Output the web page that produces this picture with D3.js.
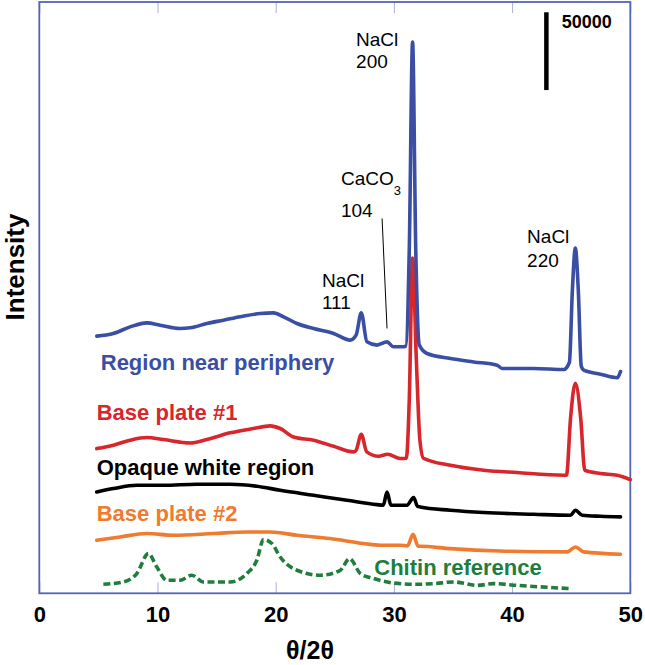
<!DOCTYPE html>
<html>
<head>
<meta charset="utf-8">
<script src="https://cdn.jsdelivr.net/npm/d3@7"></script>
<style>
  html, body { margin: 0; padding: 0; background: #fff; }
  svg { display: block; font-family: "Liberation Sans", Arial, Helvetica, sans-serif; }
</style>
</head>
<body>
<svg id="chart" width="645" height="665"></svg>
<script>
// ---- Data (2θ in degrees, intensity in thousands of counts incl. stacking offset) ----
const periphery2T = [4.86,6.27,7.68,9.09,10.22,11.91,12.76,14.17,15.58,17.0,18.69,19.81,20.66,21.8,23.2,24.9,26.3,26.8,27.24,27.72,28.57,29.42,29.97,30.69,31.0,31.3,31.58,31.85,32.15,32.8,34.78,36.75,38.73,39.15,41.83,44.37,44.85,45.1,45.35,45.6,45.85,46.06,47.48,48.89,49.17];
const peripheryI  = [165.3,167.0,171.2,173.8,172.3,170.2,170.6,173.4,175.5,177.7,179.8,180.2,177.7,173.4,170.2,167.0,162.7,165.9,180.2,161.6,159.5,161.6,158.4,158.4,158.8,220.5,354.3,220.5,159.5,154.1,150.9,148.7,146.6,144.5,144.5,143.8,148.5,194.8,221.8,194.8,146.0,143.4,140.8,138.5,142.5];

const plate1_2T = [4.86,6.27,7.68,9.09,10.5,12.76,14.17,16.15,18.12,19.53,20.38,21.5,23.2,24.9,26.59,26.8,27.24,27.7,28.7,29.47,30.54,31.05,31.3,31.58,31.9,32.2,32.5,34.78,37.6,40.42,44.37,44.6,44.95,45.35,45.8,46.15,47.48,48.89,50.0];
const plate1I   = [93.0,95.2,98.4,100.1,98.8,96.6,98.8,103.1,105.9,107.6,105.9,100.5,98.4,94.5,90.9,91.9,102.2,90.9,88.1,89.4,86.6,86.8,124.1,215.4,149.8,98.4,86.8,82.3,79.1,77.6,75.9,75.9,113.0,135.0,113.0,79.1,77.0,75.9,73.1];

const opaque2T = [4.86,6.27,8.25,10.5,13.33,16.15,18.4,20.38,23.2,26.03,28.57,29.1,29.42,29.75,31.1,31.67,32.0,32.23,34.78,37.6,41.83,44.94,45.36,45.93,47.48,49.17];
const opaqueI  = [65.1,67.3,69.4,69.4,70.1,70.1,68.8,66.2,63.0,59.8,57.0,56.6,65.1,56.6,56.6,61.5,55.9,55.5,53.4,51.9,50.8,50.2,53.4,50.2,49.5,49.1];

const plate2_2T = [4.86,6.83,9.09,11.35,14.73,17.56,19.53,21.8,24.6,27.43,28.85,30.54,31.15,31.62,32.05,32.23,34.78,39.0,44.66,45.36,46.06,49.17];
const plate2I   = [34.1,36.2,38.4,37.3,38.4,39.4,39.4,37.3,35.2,32.0,30.9,30.9,30.5,37.9,30.2,30.2,28.7,27.2,26.6,29.8,26.6,25.1];

const chitin2T = [5.42,7.11,8.25,9.23,9.94,10.79,11.91,12.9,13.89,16.15,17.56,18.4,18.97,19.68,20.38,21.8,23.77,25.46,26.25,27.16,28.28,29.98,31.96,33.36,35.06,37.04,38.44,40.42,44.94];
const chitinI  = [5.8,7.3,12.7,25.5,16.9,8.4,8.4,11.6,7.3,7.3,12.7,21.2,34.5,32.0,23.3,14.8,11.6,14.8,22.3,12.7,9.5,6.6,5.8,6.2,7.3,5.1,6.2,5.1,3.0];

const seriesNames = ["Region near periphery","Base plate #1","Opaque white region","Base plate #2","Chitin reference"];
const xTicks = [0,10,20,30,40,50];
const xDomain = [0,50];
const yDomain = [0,380];          // thousands of counts
const scaleBarValue = 50;         // 50000 counts
const scaleBarLabel = "50000";

// ---- Layout ----
const svg = d3.select("#chart");
const L = 39.3, R = 630.3, T = 2, B = 593.3;
const x = d3.scaleLinear().domain(xDomain).range([L, R]);
const y = d3.scaleLinear().domain(yDomain).range([B, T]);

const frameColor = "#5464b4";
const tickColor = "#a9b0d2";

// axes (inward ticks)
const gx = svg.append("g").attr("transform", `translate(0,${B})`)
  .call(d3.axisBottom(x).tickValues(xTicks).tickSize(-11).tickPadding(13));
gx.select(".domain").remove();
gx.selectAll(".tick line").attr("stroke", tickColor).attr("stroke-width", 1);
gx.selectAll(".tick text").attr("font-size", 22).attr("font-weight", "bold")
  .attr("fill", "#000").attr("font-family", "Liberation Sans, Arial, sans-serif");

const gt = svg.append("g").attr("transform", `translate(0,${T})`)
  .call(d3.axisTop(x).tickValues(xTicks).tickSize(-11).tickFormat(""));
gt.select(".domain").remove();
gt.selectAll(".tick line").attr("stroke", tickColor).attr("stroke-width", 1);

// frame
svg.append("rect").attr("x", L).attr("y", T).attr("width", R - L).attr("height", B - T)
  .attr("fill", "none").attr("stroke", frameColor).attr("stroke-width", 1.8);

// axis titles
svg.append("text").attr("x", 310).attr("y", 659).attr("text-anchor", "middle")
  .attr("font-size", 25).attr("font-weight", "bold").text("θ/2θ");
svg.append("text").attr("transform", "translate(24,267) rotate(-90)")
  .attr("text-anchor", "middle").attr("font-size", 26).attr("font-weight", "bold").text("Intensity");

// traces
const line = d3.line().x(d => x(d[0])).y(d => y(d[1])).curve(d3.curveMonotoneX);
const traces = [
  {t: periphery2T, v: peripheryI, c: "#3a4ea3", dash: null},
  {t: plate1_2T, v: plate1I, c: "#d7262c", dash: null},
  {t: opaque2T, v: opaqueI, c: "#000000", dash: null},
  {t: plate2_2T, v: plate2I, c: "#ee7b30", dash: null},
  {t: chitin2T, v: chitinI, c: "#1f7d3e", dash: "7,3.5"}
];
traces.slice().reverse().forEach(s => {
  svg.append("path").datum(d3.zip(s.t, s.v))
    .attr("d", line).attr("fill", "none").attr("stroke", s.c)
    .attr("stroke-width", 3.6).attr("stroke-linejoin", "round")
    .attr("stroke-linecap", s.dash ? "butt" : "round")
    .attr("stroke-dasharray", s.dash);
});

// series labels (anchors in data units)
const seriesLabelAt = [[5.2,143.8],[4.86,111.2],[4.86,75.9],[4.86,46.5],[28.34,11.6]];
seriesNames.forEach((n, i) => {
  svg.append("text").attr("x", x(seriesLabelAt[i][0])).attr("y", y(seriesLabelAt[i][1]))
    .attr("font-size", 22).attr("font-weight", "bold").attr("fill", traces[i].c).text(n);
});

// peak annotations
const annot = [
  {t: 26.8, v: 351.7, s: "NaCl"}, {t: 26.8, v: 337.4, s: "200"},
  {t: 23.91, v: 196.9, s: "NaCl"}, {t: 23.91, v: 182.4, s: "111"},
  {t: 41.27, v: 224.9, s: "NaCl"}, {t: 41.27, v: 209.8, s: "220"},
  {t: 25.52, v: 241.6, s: "104"}
];
annot.forEach(a => {
  svg.append("text").attr("x", x(a.t)).attr("y", y(a.v)).attr("font-size", 19).text(a.s);
});
const caco = svg.append("text").attr("x", x(25.52)).attr("y", y(262.3)).attr("font-size", 19);
caco.append("tspan").text("CaCO");
caco.append("tspan").attr("font-size", 13).attr("dy", 10).text("3");
svg.append("line").attr("x1", x(29.0)).attr("y1", y(240.9)).attr("x2", x(29.42)).attr("y2", y(170.2))
  .attr("stroke", "#000").attr("stroke-width", 1);

// scale bar
const barT = 42.9, barTop = 373.4;
svg.append("line").attr("x1", x(barT)).attr("x2", x(barT))
  .attr("y1", y(barTop)).attr("y2", y(barTop - scaleBarValue))
  .attr("stroke", "#000").attr("stroke-width", 4.5);
svg.append("text").attr("x", x(44.2)).attr("y", y(363.1)).attr("font-size", 18)
  .attr("font-weight", "bold").text(scaleBarLabel);
</script>
</body>
</html>
